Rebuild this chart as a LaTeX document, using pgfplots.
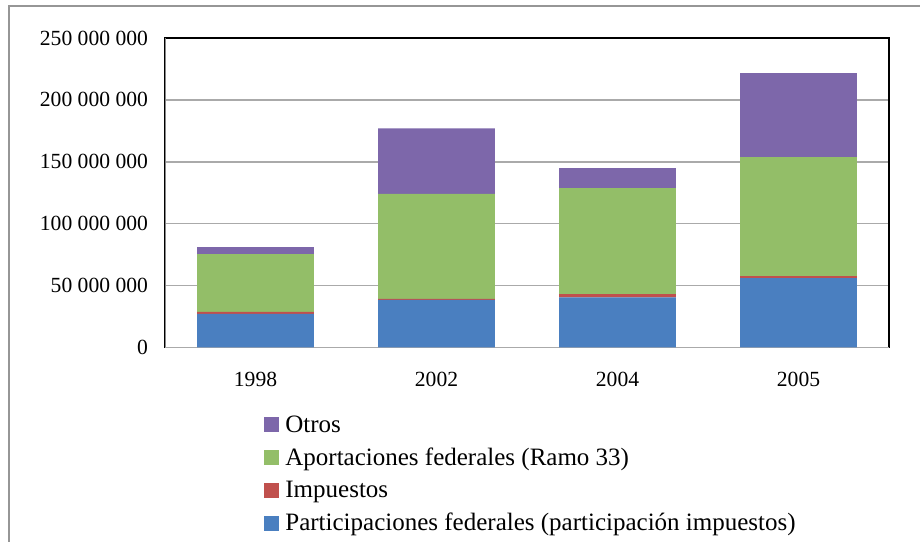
\documentclass[border=0pt]{standalone}
\usepackage{pgfplots}
\pgfplotsset{compat=1.18}
\usepackage{fontspec}
\setmainfont{Liberation Serif}
\definecolor{xblue}{HTML}{4A7FC0}
\definecolor{xred}{HTML}{C0504D}
\definecolor{xgreen}{HTML}{93BE68}
\definecolor{xpurple}{HTML}{7D67AA}
\definecolor{gridc}{RGB}{170,170,170}
\definecolor{framec}{RGB}{150,150,150}
\begin{document}
\begin{tikzpicture}
\useasboundingbox (0,0) rectangle (460pt,270.5pt);
\draw[framec, line width=0.8pt] (4.5pt,-2pt) -- (4.5pt,267.5pt) -- (462pt,267.5pt);
\begin{axis}[
  at={(82.5pt,96.85pt)}, anchor=south west,
  scale only axis, width=362pt, height=154.65pt,
  ybar stacked, bar width=0.645,
  xmin=-0.5, xmax=3.5, ymin=0, ymax=250000000,
  scaled y ticks=false,
  xtick={0,1,2,3}, xticklabels={1998,2002,2004,2005},
  ytick={0,50000000,100000000,150000000,200000000,250000000},
  yticklabels={0,50 000 000,100 000 000,150 000 000,200 000 000,250 000 000},
  ymajorgrids, grid style={draw=gridc, line width=0.8pt},
  major tick length=0pt,
  axis line style={black, line width=0.8pt},
  tick label style={font=\fontsize{10.8}{12}\selectfont},
  xticklabel style={yshift=-9pt},
  yticklabel style={xshift=-5pt},
]
\addplot[fill=xblue, draw=none] coordinates {(0,27100000) (1,38400000) (2,40400000) (3,56000000)};
\addplot[fill=xred, draw=none] coordinates {(0,1600000) (1,800000) (2,2600000) (3,1600000)};
\addplot[fill=xgreen, draw=none] coordinates {(0,46600000) (1,84800000) (2,85600000) (3,96100000)};
\addplot[fill=xpurple, draw=none] coordinates {(0,5700000) (1,53000000) (2,16200000) (3,67900000)};
\draw[gridc, line width=0.8pt] (rel axis cs:0,0) -- (rel axis cs:1,0);
\draw[gridc!80!black, line width=0.8pt] (rel axis cs:0,0) -- (rel axis cs:0,1);
\end{axis}
\fill[xpurple] (132pt,54.6pt) rectangle ++(7.5pt,7.5pt);
\fill[xgreen] (132pt,38.15pt) rectangle ++(7.5pt,7.5pt);
\fill[xred] (132pt,21.7pt) rectangle ++(7.5pt,7.5pt);
\fill[xblue] (132pt,5.25pt) rectangle ++(7.5pt,7.5pt);
\begin{scope}[every node/.style={anchor=base west, inner sep=0pt, font=\fontsize{12.5}{14}\selectfont}]
\node at (142.5pt,54.5pt) {Otros};
\node at (142.5pt,37.65pt) {Aportaciones federales (Ramo 33)};
\node at (142.5pt,21.65pt) {Impuestos};
\node at (142.5pt,5.35pt) {Participaciones federales (participación impuestos)};
\end{scope}
\end{tikzpicture}
\end{document}
